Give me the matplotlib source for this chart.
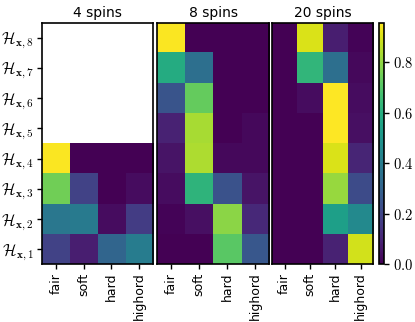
import numpy as np
import matplotlib
matplotlib.use("Agg")
import matplotlib.pyplot as plt
from matplotlib.ticker import FuncFormatter

plt.rcParams['mathtext.fontset'] = 'cm'

methods = ["fair", "soft", "hard", "highord"]
row_labels = [r"$\mathcal{H}_{\mathbf{x},%d}$" % i for i in range(1, 9)]
titles = ["4 spins", "8 spins", "20 spins"]

# rows: H_x,1 (bottom) ... H_x,8 (top); columns: fair, soft, hard, highord
spins4 = [
    [0.19, 0.08, 0.31, 0.40],
    [0.38, 0.39, 0.03, 0.17],
    [0.75, 0.19, 0.00, 0.03],
    [0.95, 0.00, 0.00, 0.00],
    [np.nan, np.nan, np.nan, np.nan],
    [np.nan, np.nan, np.nan, np.nan],
    [np.nan, np.nan, np.nan, np.nan],
    [np.nan, np.nan, np.nan, np.nan],
]
spins8 = [
    [0.00, 0.00, 0.71, 0.26],
    [0.01, 0.04, 0.79, 0.11],
    [0.03, 0.62, 0.24, 0.05],
    [0.05, 0.84, 0.02, 0.02],
    [0.09, 0.83, 0.00, 0.02],
    [0.25, 0.73, 0.00, 0.00],
    [0.59, 0.35, 0.00, 0.00],
    [0.95, 0.00, 0.00, 0.00],
]
spins20 = [
    [0.00, 0.00, 0.09, 0.89],
    [0.00, 0.00, 0.54, 0.45],
    [0.00, 0.00, 0.81, 0.22],
    [0.00, 0.00, 0.90, 0.10],
    [0.00, 0.00, 0.956, 0.04],
    [0.00, 0.03, 0.956, 0.03],
    [0.00, 0.63, 0.35, 0.02],
    [0.00, 0.90, 0.08, 0.01],
]

datasets = [np.array(spins4, float), np.array(spins8, float), np.array(spins20, float)]
vmax = max(np.nanmax(d) for d in datasets)

W, H = 415, 322
fig = plt.figure(figsize=(W / 100, H / 100), dpi=100)

bottom = 1 - 264.3 / H
height = (264.3 - 22.5) / H
lefts = [(41.8, 153.3), (156.7, 269.3), (272.0, 373.3)]

im = None
for k, (d, (l, r)) in enumerate(zip(datasets, lefts)):
    ax = fig.add_axes([l / W, bottom, (r - l) / W, height])
    im = ax.imshow(d, origin="lower", cmap="viridis", vmin=0, vmax=vmax,
                   aspect="auto", interpolation="nearest")
    ax.set_xticks(range(len(methods)))
    ax.set_xticklabels(methods, rotation=90, fontsize=9)
    if k == 0:
        ax.set_yticks(range(8))
        ax.set_yticklabels(row_labels, fontsize=11.5)
    else:
        ax.set_yticks([])
    ax.set_title(titles[k], fontsize=10, pad=4)
    ax.tick_params(length=3.5, width=1, pad=2.5)
    for s in ax.spines.values():
        s.set_linewidth(1.2)

cax = fig.add_axes([379.3 / W, bottom, 5.0 / W, height])
cb = fig.colorbar(im, cax=cax)
cb.set_ticks([0.0, 0.2, 0.4, 0.6, 0.8])
cb.ax.yaxis.set_major_formatter(FuncFormatter(lambda x, p: r"$%.1f$" % x))
cb.ax.tick_params(labelsize=10.5, length=3.5, width=1, pad=2.5)
cb.outline.set_linewidth(1.2)

fig.savefig("out.png", dpi=100)
